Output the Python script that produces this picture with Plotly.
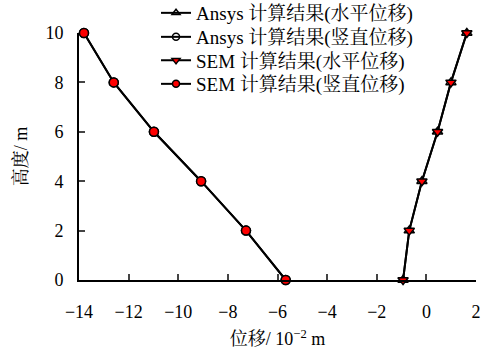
import plotly.graph_objects as go

heights = [0, 2, 4, 6, 8, 10]
ansys_h = [-0.94, -0.69, -0.18, 0.45, 0.99, 1.63]
ansys_v = [-5.67, -7.27, -9.08, -10.98, -12.6, -13.8]
sem_h = [-0.94, -0.69, -0.18, 0.45, 0.99, 1.63]
sem_v = [-5.67, -7.27, -9.08, -10.98, -12.6, -13.8]
names = ["Ansys 计算结果(水平位移)", "Ansys 计算结果(竖直位移)",
         "SEM 计算结果(水平位移)", "SEM 计算结果(竖直位移)"]
x_ticks = [-14, -12, -10, -8, -6, -4, -2, 0, 2]
y_ticks = [0, 2, 4, 6, 8, 10]

FONT = "'Liberation Serif', 'Noto Serif CJK SC', 'Noto Sans CJK SC', serif"
fig = go.Figure()
line = dict(color="black", width=2)
styles = [
    dict(symbol="triangle-up-open", color="black", line=dict(color="black", width=1.5)),
    dict(symbol="circle-open", color="black", line=dict(color="black", width=1.5)),
    dict(symbol="triangle-down", color="red", line=dict(color="black", width=1.5)),
    dict(symbol="circle", color="red", line=dict(color="black", width=1.5)),
]
series = [ansys_h, ansys_v, sem_h, sem_v]
legend_ids = ["legend", "legend2", "legend3", "legend4"]
legend_rows_px = [13, 37, 60.5, 84]  # row centres in pixels from top
for xs, st, nm in zip(series, styles, names):
    fig.add_trace(go.Scatter(x=xs, y=heights, name=nm, mode="lines+markers", line=line,
                             marker=dict(size=9, **st), cliponaxis=False, showlegend=False))
for st, nm, lid in zip(styles, names, legend_ids):
    fig.add_trace(go.Scatter(x=[None], y=[None], name=nm, mode="lines+markers", line=line,
                             marker=dict(size=7, **st), showlegend=True, legend=lid))

top, bottom, H = 33, 76, 356
plot_h = H - top - bottom
legends = {}
for lid, row in zip(legend_ids, legend_rows_px):
    legends[lid] = dict(x=0.194, y=(H - bottom - row) / plot_h, xanchor="left", yanchor="middle",
                        bgcolor="rgba(0,0,0,0)", font=dict(size=19, family=FONT))

fig.update_layout(
    width=483, height=H,
    margin=dict(l=79, r=7, t=top, b=bottom, autoexpand=False),
    paper_bgcolor="white", plot_bgcolor="white",
    font=dict(family=FONT, size=18, color="black"),
    showlegend=True,
    xaxis=dict(range=[-14, 2], tickvals=x_ticks, ticks="inside", ticklen=6, tickwidth=1.5,
               showline=True, linecolor="black", linewidth=2, showgrid=False, zeroline=False,
               ticklabelstandoff=14, automargin=False,
               title=dict(text="位移/ 10<sup>−2</sup> m", font=dict(size=18), standoff=12)),
    yaxis=dict(range=[0, 10], tickvals=y_ticks, ticks="inside", ticklen=6, tickwidth=1.5,
               showline=True, linecolor="black", linewidth=2, showgrid=False, zeroline=False,
               ticklabelstandoff=10, automargin=False,
               title=dict(text="高度/ m", font=dict(size=18), standoff=13)),
    **legends,
)
fig.write_html("out.html", config={"displayModeBar": False},
               post_script="document.body.style.margin='0';document.body.style.overflow='hidden';")
